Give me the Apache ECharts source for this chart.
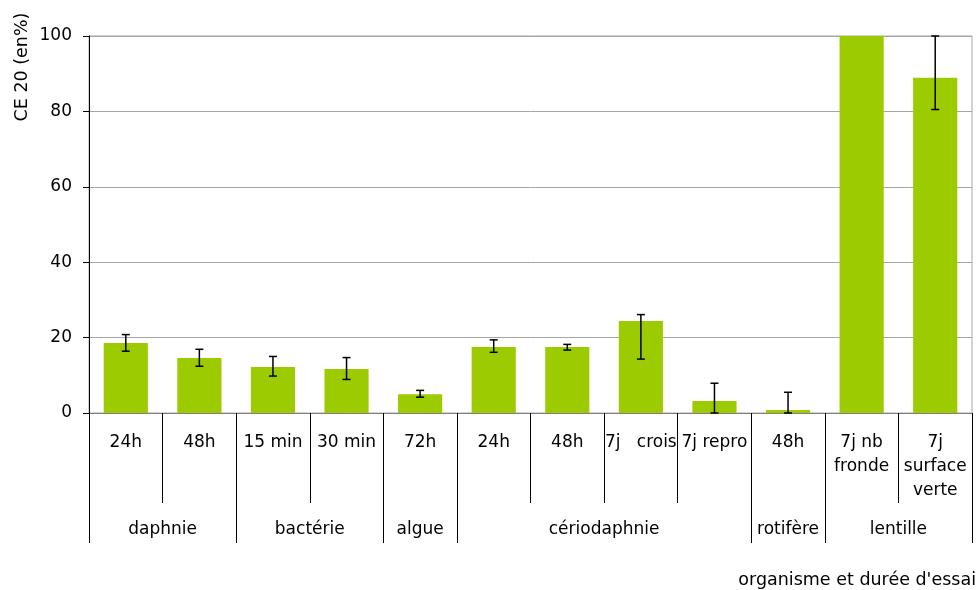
<!DOCTYPE html>
<html>
<head>
<meta charset="utf-8">
<script src="https://cdn.jsdelivr.net/npm/echarts@6/dist/echarts.min.js"></script>
<style>
html,body{margin:0;padding:0;background:#fff;}
#chart{width:979px;height:590px;}
</style>
</head>
<body>
<div id="chart"></div>
<script>
// ---- data ----
const subLabels = ['24h', '48h', '15 min', '30 min', '72h', '24h', '48h', '7j   crois', '7j repro', '48h', '7j nb\nfronde', '7j\nsurface\nverte'];
const groups = ['daphnie', 'bactérie', 'algue', 'cériodaphnie', 'rotifère', 'lentille'];
const groupSizes = [2, 2, 1, 4, 1, 2];
const values = [18.6, 14.6, 12.2, 11.7, 5.0, 17.5, 17.5, 24.4, 3.2, 0.8, 100, 88.9];
const errLow = [16.4, 12.4, 9.8, 8.9, 4.2, 16.1, 16.7, 14.3, 0, 0, null, 80.5];
const errHigh = [20.8, 16.9, 15.0, 14.7, 6.0, 19.4, 18.2, 26.1, 7.9, 5.5, null, 100];
const yTicks = [0, 20, 40, 60, 80, 100];
const yTitle = 'CE 20 (en%)';
const xTitle = "organisme et durée d'essai";

// ---- derived ----
const groupBounds = [0];
groupSizes.forEach(s => groupBounds.push(groupBounds[groupBounds.length - 1] + s));
const groupCenters = groupSizes.map((s, i) => groupBounds[i] + s / 2);
const centerName = {};
groupCenters.forEach((c, i) => { centerName[c] = groups[i]; });
const errData = [];
values.forEach((v, i) => { if (errLow[i] != null) errData.push([i, errLow[i], errHigh[i]]); });

const FONT = 'DejaVu Sans';
const FS = 17;
const chart = echarts.init(document.getElementById('chart'), null, {renderer: 'canvas'});
chart.setOption({
  animation: false,
  textStyle: {fontFamily: FONT},
  grid: {left: 89, right: 7, top: 36, bottom: 177, show: true, borderColor: '#a6a6a6', borderWidth: 1},
  xAxis: [{
    type: 'category',
    data: subLabels,
    position: 'bottom',
    axisLine: {show: true, lineStyle: {color: '#808080', width: 1}},
    axisTick: {show: true, length: 90, alignWithLabel: false, lineStyle: {color: '#000', width: 1}},
    axisLabel: {interval: 0, color: '#000', fontSize: FS, fontFamily: FONT, lineHeight: 24, margin: 18, align: 'center'},
    splitLine: {show: false}
  }, {
    type: 'value',
    min: 0,
    max: subLabels.length,
    position: 'bottom',
    offset: 90,
    axisLine: {show: false},
    axisTick: {show: true, length: 40, customValues: groupBounds, lineStyle: {color: '#000', width: 1}},
    axisLabel: {show: true, customValues: groupCenters, color: '#000', fontSize: FS, fontFamily: FONT, lineHeight: 24, margin: 15,
      formatter: v => centerName[v] || ''},
    splitLine: {show: false}
  }],
  yAxis: {
    type: 'value',
    min: 0, max: 100, interval: 20,
    axisLine: {show: true, lineStyle: {color: '#000', width: 1}},
    axisTick: {show: true, length: 6, lineStyle: {color: '#000'}},
    axisLabel: {color: '#000', fontSize: FS, fontFamily: FONT, margin: 17},
    splitLine: {show: true, lineStyle: {color: '#a6a6a6', width: 1}}
  },
  graphic: [{
    type: 'text',
    x: 22, y: 67,
    rotation: Math.PI / 2,
    style: {text: yTitle, fontSize: 17.5, fontFamily: FONT, fill: '#000', textAlign: 'center', textVerticalAlign: 'middle'}
  }, {
    type: 'text',
    x: 976, y: 580,
    style: {text: xTitle, fontSize: 17.5, fontFamily: FONT, fill: '#000', textAlign: 'right', textVerticalAlign: 'middle'}
  }],
  series: [{
    type: 'bar',
    xAxisIndex: 0,
    data: values,
    barWidth: '60%',
    itemStyle: {color: '#9bcb00'}
  }, {
    type: 'custom',
    xAxisIndex: 0,
    data: errData,
    z: 10,
    renderItem: function (params, api) {
      const x = api.value(0);
      const lo = api.coord([x, api.value(1)]);
      const hi = api.coord([x, api.value(2)]);
      const hw = 4;
      const st = {stroke: '#000', lineWidth: 1.5};
      return {
        type: 'group',
        children: [
          {type: 'line', shape: {x1: lo[0], y1: lo[1], x2: hi[0], y2: hi[1]}, style: st},
          {type: 'line', shape: {x1: lo[0] - hw, y1: lo[1], x2: lo[0] + hw, y2: lo[1]}, style: st},
          {type: 'line', shape: {x1: hi[0] - hw, y1: hi[1], x2: hi[0] + hw, y2: hi[1]}, style: st}
        ]
      };
    }
  }]
});
</script>
</body>
</html>
